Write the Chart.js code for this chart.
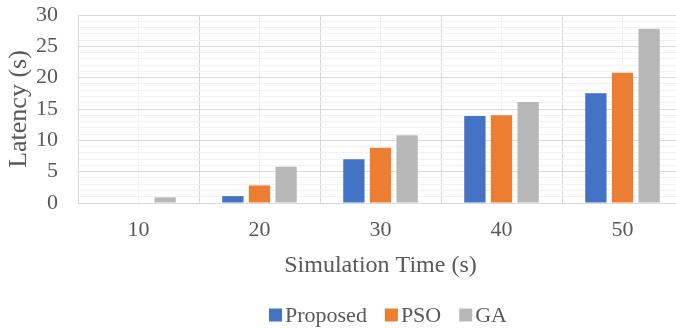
<!DOCTYPE html>
<html>
<head>
<meta charset="utf-8">
<script src="https://cdn.jsdelivr.net/npm/chart.js@4/dist/chart.umd.min.js"></script>
<style>
  html, body { margin: 0; padding: 0; background: #fff; overflow: hidden; width: 676px; height: 328px; }
  #wrap { width: 690px; height: 328px; }
</style>
</head>
<body>
<div id="wrap"><canvas id="c" width="690" height="328"></canvas></div>
<script>
// Latency per algorithm at each simulation time
const categories = ['10', '20', '30', '40', '50'];
const proposed = [0, 1.1, 7.0, 13.9, 17.5];
const pso = [0, 2.8, 8.8, 14.0, 20.8];
const ga = [0.9, 5.8, 10.8, 16.1, 27.8];
const seriesNames = ['Proposed', 'PSO', 'GA'];
const seriesColors = ['#4472C4', '#ED7D31', '#B7B7B7'];
const yTickLabels = ['0', '5', '10', '15', '20', '25', '30'];

const textColor = '#595959';
const serif = '"Liberation Serif", "Times New Roman", serif';
const majorGrid = '#D9D9D9';
const minorGrid = '#F2F2F2';

// Legend row drawn under the axis title: small square swatch, then the name
const bottomLegend = {
  id: 'bottomLegend',
  afterDraw(chart) {
    const ctx = chart.ctx;
    ctx.save();
    ctx.font = '22px ' + serif;
    const box = 13, gapText = 3, gapItem = 18;
    const items = chart.data.datasets.map(d => ({
      label: d.label, color: d.backgroundColor, w: ctx.measureText(d.label).width
    }));
    const total = items.reduce((s, it) => s + box + gapText + it.w, 0) + gapItem * (items.length - 1);
    let x = 388 - total / 2;
    const cy = 315;
    ctx.textBaseline = 'middle';
    ctx.textAlign = 'left';
    items.forEach(it => {
      ctx.fillStyle = it.color;
      ctx.fillRect(x, cy - box / 2, box, box);
      x += box + gapText;
      ctx.fillStyle = textColor;
      ctx.fillText(it.label, x, cy + 1);
      x += it.w + gapItem;
    });
    ctx.restore();
  }
};

const seriesValues = [proposed, pso, ga];

new Chart(document.getElementById('c'), {
  type: 'bar',
  data: {
    labels: categories,
    datasets: seriesNames.map((name, i) => ({
      label: name,
      data: seriesValues[i],
      backgroundColor: seriesColors[i],
      borderWidth: 0,
      categoryPercentage: 0.66,
      barPercentage: 0.8,
      xAxisID: 'x'
    }))
  },
  options: {
    responsive: false,
    animation: false,
    layout: { padding: { top: 15, right: 7, bottom: 44, left: 0 } },
    plugins: { legend: { display: false }, tooltip: { enabled: false } },
    scales: {
      x: {
        type: 'category',
        offset: true,
        afterFit(scale) { scale.height = 81; },
        grid: { offset: true, color: majorGrid, lineWidth: 1, drawTicks: false },
        border: { color: majorGrid, width: 1 },
        ticks: { color: textColor, font: { family: serif, size: 22 }, padding: 14 },
        title: {
          display: true, text: 'Simulation Time (s)', color: textColor,
          font: { family: serif, size: 24 }, padding: { top: 8, bottom: 4 }
        }
      },
      xMid: {
        type: 'category',
        labels: categories,
        position: 'bottom',
        offset: true,
        afterFit(scale) { scale.height = 0; scale.paddingTop = 0; scale.paddingBottom = 0; },
        grid: { offset: false, color: minorGrid, lineWidth: 1, drawTicks: false },
        border: { display: false },
        ticks: { display: false }
      },
      y: {
        min: 0,
        max: 30,
        afterFit(scale) { scale.width = 78; scale.paddingTop = 0; scale.paddingBottom = 0; },
        grid: {
          drawTicks: false,
          color: ctx => (ctx.tick && ctx.tick.value % 5 === 0) ? majorGrid : minorGrid,
          lineWidth: 1
        },
        border: { color: majorGrid, width: 1 },
        ticks: {
          stepSize: 1,
          autoSkip: false,
          padding: 20,
          color: textColor,
          font: { family: serif, size: 22 },
          callback: v => {
            const s = String(v);
            return yTickLabels.includes(s) ? s : '';
          }
        },
        title: {
          display: true, text: 'Latency (s)', color: textColor,
          font: { family: serif, size: 26 }, padding: { top: 4, bottom: 4 }
        }
      }
    }
  },
  plugins: [bottomLegend]
});
</script>
</body>
</html>
